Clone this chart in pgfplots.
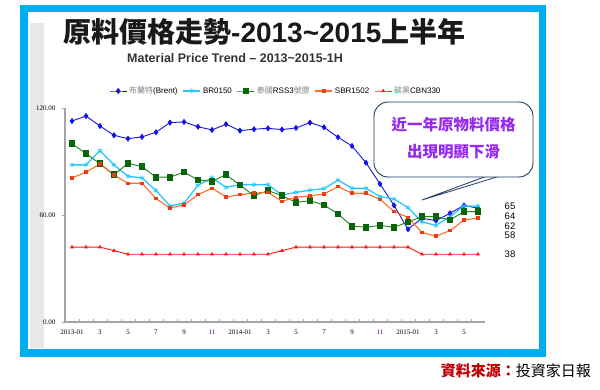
\documentclass[border=0pt]{standalone}
\usepackage{pgfplots}
\pgfplotsset{compat=1.18}
\usepackage{pgfplotstable}
\usepackage{fontspec}
\setmainfont{Liberation Sans}
\newfontfamily\cjk{Noto Sans CJK TC}
\newfontfamily\tms{Liberation Serif}
\definecolor{cyanframe}{RGB}{0,174,239}
\definecolor{stripgray}{RGB}{232,232,232}
\definecolor{brent}{RGB}{20,20,230}
\definecolor{brc}{RGB}{40,200,250}
\definecolor{rssline}{RGB}{30,130,30}
\definecolor{rssmark}{RGB}{10,100,10}
\definecolor{sbrline}{RGB}{255,110,40}
\definecolor{sbrmark}{RGB}{235,60,20}
\definecolor{cbn}{RGB}{255,20,20}
\definecolor{navy}{RGB}{31,56,100}
\definecolor{calloutpurple}{RGB}{150,40,240}
\definecolor{srcred}{RGB}{192,0,0}
\definecolor{axgray}{RGB}{165,165,165}
\definecolor{tickpurple}{RGB}{70,0,90}

\pgfplotstableread{
i brent br rss sbr cbn
0 112.7 88.1 100.0 80.8 42
1 115.5 88.1 94.4 84.0 42
2 109.9 96.1 88.8 88.6 42
3 104.7 88.1 82.6 82.3 40
4 102.8 81.7 89.0 77.8 38
5 103.8 80.8 87.1 77.8 38
6 106.4 73.7 81.2 69.2 38
7 111.8 65.1 81.2 63.9 38
8 112.2 66.6 84.1 65.6 38
9 109.5 76.7 79.6 71.4 38
10 107.7 80.9 78.9 75.0 38
11 110.9 75.5 82.6 70.1 38
12 107.3 77.0 76.8 71.4 38
13 108.1 77.0 70.8 72.3 38
14 108.6 77.0 73.7 72.7 38
15 107.9 71.2 70.8 67.7 40
16 108.8 72.7 67.1 69.9 42
17 111.8 73.9 68.0 70.7 42
18 109.2 74.8 65.6 71.8 42
19 103.6 79.6 60.6 75.9 42
20 98.7 75.0 53.8 72.2 42
21 89.3 75.0 53.1 72.2 42
22 77.4 70.3 54.2 68.8 42
23 65.4 69.0 53.1 61.9 42
24 52.0 64.1 56.1 58.7 42
25 58.2 56.1 59.1 50.1 38
26 56.8 54.2 59.1 48.2 38
27 61.0 59.1 57.2 51.2 38
28 65.4 65.1 61.9 57.2 38
29 63.8 65.1 61.9 58.3 38
}\datatable

\begin{document}
\begin{tikzpicture}
\begin{scope}[x=1pt,y=-1pt]
\path[use as bounding box, fill=white] (0,0) rectangle (600,390);
\fill[stripgray] (30,23) rectangle (44,348);
\draw[cyanframe, line width=7.5pt] (23.75,8.75) rectangle (542.5,353);
\node[anchor=base west, inner sep=0pt, text=black!90] at (63,43)
  {\fontsize{28}{30}\selectfont{\cjk\bfseries 原料價格走勢}{\bfseries -2013\textasciitilde 2015}{\cjk\bfseries 上半年}};
\node[anchor=base west, inner sep=0pt, text=black!80] at (127,62.5)
  {\fontsize{12.5}{14}\selectfont\bfseries Material Price Trend – 2013\textasciitilde 2015-1H};
\end{scope}

\begin{axis}[
  at={(65pt,-322pt)}, anchor=south west,
  scale only axis, width=420pt, height=214pt,
  xmin=-0.5, xmax=29.5, ymin=0, ymax=120,
  axis x line=bottom, axis y line=left,
  axis line style={-, draw=axgray, line width=1.3pt},
  xtick={0,2,...,28},
  xticklabels={2013-01,3,5,7,9,\textcolor{tickpurple}{11},2014-01,3,5,7,9,\textcolor{tickpurple}{11},2015-01,3,5},
  major x tick style={draw=none},
  minor xtick={0.5,1.5,...,28.5},
  minor x tick style={draw=axgray, line width=0.8pt},
  minor tick length=3pt,
  xtick align=inside,
  ytick={0,60,120},
  yticklabels={0.00,60.00,120.00},
  ytick align=outside,
  major y tick style={draw=axgray, line width=0.8pt},
  major tick length=3pt,
  /pgf/number format/assume math mode=true,
  xticklabel style={font=\tms\fontsize{7}{8}\selectfont, yshift=-4pt},
  yticklabel style={font=\tms\fontsize{7}{8}\selectfont, xshift=-3pt},
  legend style={at={(0.502,1.0794)}, anchor=center, draw=none, fill=none,
    legend columns=5, font=\fontsize{8}{9}\selectfont,
    /tikz/every even column/.append style={column sep=3pt},
    inner sep=0pt},
  legend cell align=left,
  clip=false,
]
\addplot[brent, line width=0.9pt, mark=diamond*, mark size=2.4pt] table[x=i,y=brent]{\datatable};
\addlegendentry{{\color{gray}\cjk 布蘭特}(Brent)}
\addplot[brc, line width=1.3pt, mark=asterisk, mark size=2.6pt, mark options={line width=0.7pt}] table[x=i,y=br]{\datatable};
\addlegendentry{BR0150}
\addplot[rssline, line width=0.9pt, mark=square*, mark size=2.9pt, mark options={fill=rssmark, draw=rssmark}] table[x=i,y=rss]{\datatable};
\addlegendentry{{\color{gray}\cjk 泰國}RSS3{\color{gray}\cjk 號膠}}
\addplot[sbrline, line width=1.1pt, mark=square*, mark size=1.2pt, mark options={fill=sbrmark, draw=sbrmark}] table[x=i,y=sbr]{\datatable};
\addlegendentry{SBR1502}
\addplot[cbn, line width=0.9pt, mark=triangle*, mark size=1.4pt] table[x=i,y=cbn]{\datatable};
\addlegendentry{{\color{gray}\cjk 碳黑}CBN330}
\end{axis}

\begin{scope}[x=1pt,y=-1pt]
\draw[navy, line width=0.8pt, fill=white] (487,176) -- (422,200) -- (500,176);
\draw[navy, line width=0.9pt, fill=white, rounded corners=14pt] (374,102) rectangle (533,177);
\node[text=calloutpurple, inner sep=0pt] at (453.5,125) {\fontsize{15.5}{17}\selectfont\cjk\bfseries 近一年原物料價格};
\node[text=calloutpurple, inner sep=0pt] at (453.5,152) {\fontsize{15.5}{17}\selectfont\cjk\bfseries 出現明顯下滑};
\foreach \v/\yy in {65/206.7,64/216.7,62/226,58/235.3,38/254.3}
  \node[inner sep=0pt, font=\fontsize{9.5}{10}\selectfont] at (510,\yy) {\v};
\node[anchor=east, inner sep=0pt] at (591,371) {\fontsize{15}{17}\selectfont\cjk{\color{srcred}\bfseries 資料來源：}投資家日報};
\end{scope}
\end{tikzpicture}
\end{document}
